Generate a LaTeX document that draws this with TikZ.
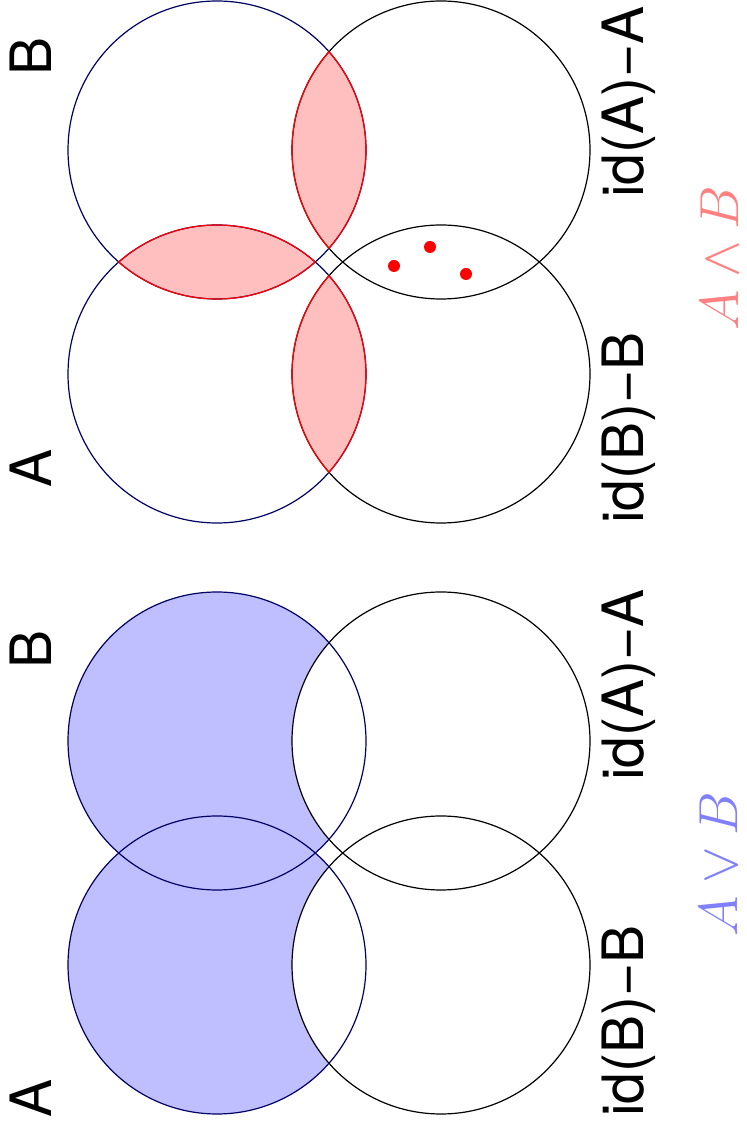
\documentclass[tikz,border=0pt]{standalone}
\usepackage{fontspec}
\setmainfont{TeX Gyre Heros}
\usepackage{graphicx}
\usepackage{tikz}
\usetikzlibrary{positioning}
\usetikzlibrary{backgrounds}

\definecolor{setnavy}{RGB}{0,0,100}

\begin{document}
\begin{tikzpicture}[x=0.5pt,y=0.5pt,node distance=112pt,
	set node/.style={circle, draw, line width=0.6pt, minimum size=149pt, inner sep=0pt},
	left set/.style={set node, draw=setnavy},
	name node/.style={rotate=90, inner sep=0pt, font=\fontsize{28.5}{34}\selectfont},
	op node/.style={rotate=90, inner sep=0pt, font=\Huge},
	dot node/.style={circle, fill=red, minimum size=6pt, inner sep=0pt}]

	\useasboundingbox (0,0) rectangle (747,1131);

	% A and B
	\node[left set] (a1) at (217,757) {};
	\node[left set] (b1) [above of=a1] {};
	\node[set node] (ida1) [right of=b1] {};
	\node[set node] (idb1) [right of=a1] {};

	\begin{scope}[on background layer]
	\foreach \p/\q in {a1/b1, b1/ida1, a1/idb1} {
		\begin{scope}
		\clip (\p.center) circle (149);
		\fill[red!25] (\q.center) circle (149);
		\end{scope}
	}
	\end{scope}

	\foreach \p/\q in {a1/b1, b1/ida1, a1/idb1, b1/a1, ida1/b1, idb1/a1} {
		\begin{scope}
		\clip (\p.center) circle (149);
		\draw[red, line width=0.6pt] (\q.center) circle (149);
		\end{scope}
	}

	\foreach \n/\pos in {1/{(394,865)}, 2/{(430,884)}, 3/{(466,857)}}
		\node[dot node] (d\n) at \pos {};

	\node[name node] (la1) at (31,663) {A};
	\node[name node] (lb1) at (31,1075) {B};
	\node[name node] (lida1) at (629,1029) {id(A)−A};
	\node[name node] (lidb1) at (629,703) {id(B)−B};
	\node[op node, text=red!50] (and) at (720,873) {\scalebox{1.105}{$A\wedge B$}};

	% A or B
	\node[left set] (a2) at (217,166) {};
	\node[left set] (b2) [above of=a2] {};
	\node[set node] (ida2) [right of=b2] {};
	\node[set node] (idb2) [right of=a2] {};

	\begin{scope}[on background layer]
	\fill[blue!25] (a2.center) circle (149) (b2.center) circle (149);
	\fill[white] (ida2.center) circle (149) (idb2.center) circle (149);
	\end{scope}

	\node[name node] (la2) at (31,33) {A};
	\node[name node] (lb2) at (31,482) {B};
	\node[name node] (lida2) at (629,446) {id(A)−A};
	\node[name node] (lidb2) at (629,110) {id(B)−B};
	\node[op node, text=blue!50] (or) at (719,267) {\scalebox{1.105}{$A\vee B$}};
\end{tikzpicture}
\end{document}
